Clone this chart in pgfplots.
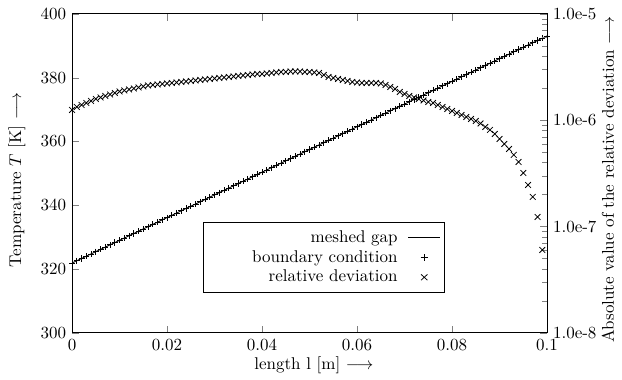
\documentclass[border=0pt]{standalone}
\usepackage{pgfplots}
\pgfplotsset{compat=1.18}
\usepackage{pgfplotstable}

\pgfplotstableread{
x T
0.000 321.90
0.001 322.61
0.002 323.32
0.003 324.04
0.004 324.75
0.005 325.46
0.006 326.17
0.007 326.88
0.008 327.60
0.009 328.31
0.010 329.02
0.011 329.73
0.012 330.44
0.013 331.16
0.014 331.87
0.015 332.58
0.016 333.29
0.017 334.00
0.018 334.72
0.019 335.43
0.020 336.14
0.021 336.85
0.022 337.56
0.023 338.28
0.024 338.99
0.025 339.70
0.026 340.41
0.027 341.12
0.028 341.84
0.029 342.55
0.030 343.26
0.031 343.97
0.032 344.68
0.033 345.40
0.034 346.11
0.035 346.82
0.036 347.53
0.037 348.24
0.038 348.96
0.039 349.67
0.040 350.38
0.041 351.09
0.042 351.80
0.043 352.52
0.044 353.23
0.045 353.94
0.046 354.65
0.047 355.36
0.048 356.08
0.049 356.79
0.050 357.50
0.051 358.21
0.052 358.92
0.053 359.64
0.054 360.35
0.055 361.06
0.056 361.77
0.057 362.48
0.058 363.20
0.059 363.91
0.060 364.62
0.061 365.33
0.062 366.04
0.063 366.76
0.064 367.47
0.065 368.18
0.066 368.89
0.067 369.60
0.068 370.32
0.069 371.03
0.070 371.74
0.071 372.45
0.072 373.16
0.073 373.88
0.074 374.59
0.075 375.30
0.076 376.01
0.077 376.72
0.078 377.44
0.079 378.15
0.080 378.86
0.081 379.57
0.082 380.28
0.083 381.00
0.084 381.71
0.085 382.42
0.086 383.13
0.087 383.84
0.088 384.56
0.089 385.27
0.090 385.98
0.091 386.69
0.092 387.40
0.093 388.12
0.094 388.83
0.095 389.54
0.096 390.25
0.097 390.96
0.098 391.68
0.099 392.39
0.100 393.10
}\tempdata

\pgfplotstableread{
x dev
0.000 1.250e-6
0.001 1.334e-6
0.002 1.393e-6
0.003 1.454e-6
0.004 1.519e-6
0.005 1.586e-6
0.006 1.639e-6
0.007 1.693e-6
0.008 1.748e-6
0.009 1.806e-6
0.010 1.866e-6
0.011 1.907e-6
0.012 1.949e-6
0.013 1.991e-6
0.014 2.035e-6
0.015 2.080e-6
0.016 2.125e-6
0.017 2.148e-6
0.018 2.172e-6
0.019 2.195e-6
0.020 2.219e-6
0.021 2.243e-6
0.022 2.268e-6
0.023 2.292e-6
0.024 2.317e-6
0.025 2.343e-6
0.026 2.368e-6
0.027 2.394e-6
0.028 2.420e-6
0.029 2.447e-6
0.030 2.473e-6
0.031 2.500e-6
0.032 2.527e-6
0.033 2.555e-6
0.034 2.582e-6
0.035 2.611e-6
0.036 2.639e-6
0.037 2.668e-6
0.038 2.697e-6
0.039 2.726e-6
0.040 2.726e-6
0.041 2.756e-6
0.042 2.786e-6
0.043 2.817e-6
0.044 2.847e-6
0.045 2.847e-6
0.046 2.878e-6
0.047 2.878e-6
0.048 2.878e-6
0.049 2.847e-6
0.050 2.847e-6
0.051 2.817e-6
0.052 2.786e-6
0.053 2.668e-6
0.054 2.555e-6
0.055 2.500e-6
0.056 2.447e-6
0.057 2.394e-6
0.058 2.343e-6
0.059 2.292e-6
0.060 2.268e-6
0.061 2.243e-6
0.062 2.243e-6
0.063 2.243e-6
0.064 2.243e-6
0.065 2.219e-6
0.066 2.148e-6
0.067 2.058e-6
0.068 1.970e-6
0.069 1.845e-6
0.070 1.768e-6
0.071 1.693e-6
0.072 1.639e-6
0.073 1.586e-6
0.074 1.536e-6
0.075 1.486e-6
0.076 1.454e-6
0.077 1.393e-6
0.078 1.334e-6
0.079 1.277e-6
0.080 1.223e-6
0.081 1.171e-6
0.082 1.122e-6
0.083 1.074e-6
0.084 1.029e-6
0.085 9.85e-7
0.086 9.33e-7
0.087 8.65e-7
0.088 8.11e-7
0.089 7.43e-7
0.090 6.67e-7
0.091 5.98e-7
0.092 5.37e-7
0.093 4.72e-7
0.094 4.05e-7
0.095 3.19e-7
0.096 2.46e-7
0.097 1.90e-7
0.098 1.23e-7
0.099 6.02e-8
}\devdata

\begin{document}
\begin{tikzpicture}
\begin{axis}[
  name=main,
  scale only axis,
  width=279.4pt, height=187.6pt,
  xmin=0, xmax=0.1, ymin=300, ymax=400,
  xtick={0,0.02,0.04,0.06,0.08,0.1},
  xticklabels={0,0.02,0.04,0.06,0.08,0.1},
  scaled x ticks=false,
  ytick={300,320,340,360,380,400},
  ytick pos=left,
  tick align=inside,
  axis line style={line width=0.6pt},
  xlabel={length l [m] $\longrightarrow$},
  ylabel={Temperature $T$ [K] $\longrightarrow$},
  xlabel style={at={(axis description cs:0.509,-0.103)}, anchor=center},
  ylabel style={at={(axis description cs:-0.116,0.48)}, anchor=center},
]
\addplot[black, line width=0.5pt, mark=+, mark size=1.8pt, mark options={line width=0.45pt}] table[x=x, y=T] {\tempdata};
\coordinate (bl) at (rel axis cs:0,0);
\coordinate (tr) at (rel axis cs:1,1);
\end{axis}
\begin{axis}[
  scale only axis,
  width=279.4pt, height=187.6pt,
  xmin=0, xmax=0.1,
  ymode=log, ymin=1e-8, ymax=1e-5,
  xtick=\empty,
  ytick={1e-8,1e-7,1e-6,1e-5},
  yticklabels={1.0e-8,1.0e-7,1.0e-6,1.0e-5},
  ytick pos=right,
  tick align=inside,
  axis line style={line width=0.6pt},
  ylabel={Absolute value of the relative deviation $\longrightarrow$},
  ylabel style={at={(axis description cs:1.128,0.48)}, anchor=center, rotate=0},
  legend style={at={(axis description cs:0.276,0.348)}, anchor=north west, draw=black, fill=white, line width=0.6pt, inner xsep=2.5pt, inner ysep=2.8pt, row sep=-0.8pt,
    /tikz/every odd column/.append style={column sep=4pt}},
  legend cell align=right,
  legend plot pos=right,
  legend image post style={xscale=1.1},
]
\addlegendimage{black, line width=0.5pt, no marks}
\addlegendentry{meshed gap}
\addlegendimage{black, only marks, mark=+, mark size=2pt, mark options={line width=0.45pt}}
\addlegendentry{\hspace*{24pt}boundary condition}
\addplot[black, only marks, mark=x, mark size=2.4pt, mark options={line width=0.45pt}] table[x=x, y=dev] {\devdata};
\addlegendentry{relative deviation}
\end{axis}
\pgfresetboundingbox
\path ([shift={(-42.4pt,-27.6pt)}]bl) rectangle ([shift={(44.1pt,8.2pt)}]tr);
\end{tikzpicture}
\end{document}
